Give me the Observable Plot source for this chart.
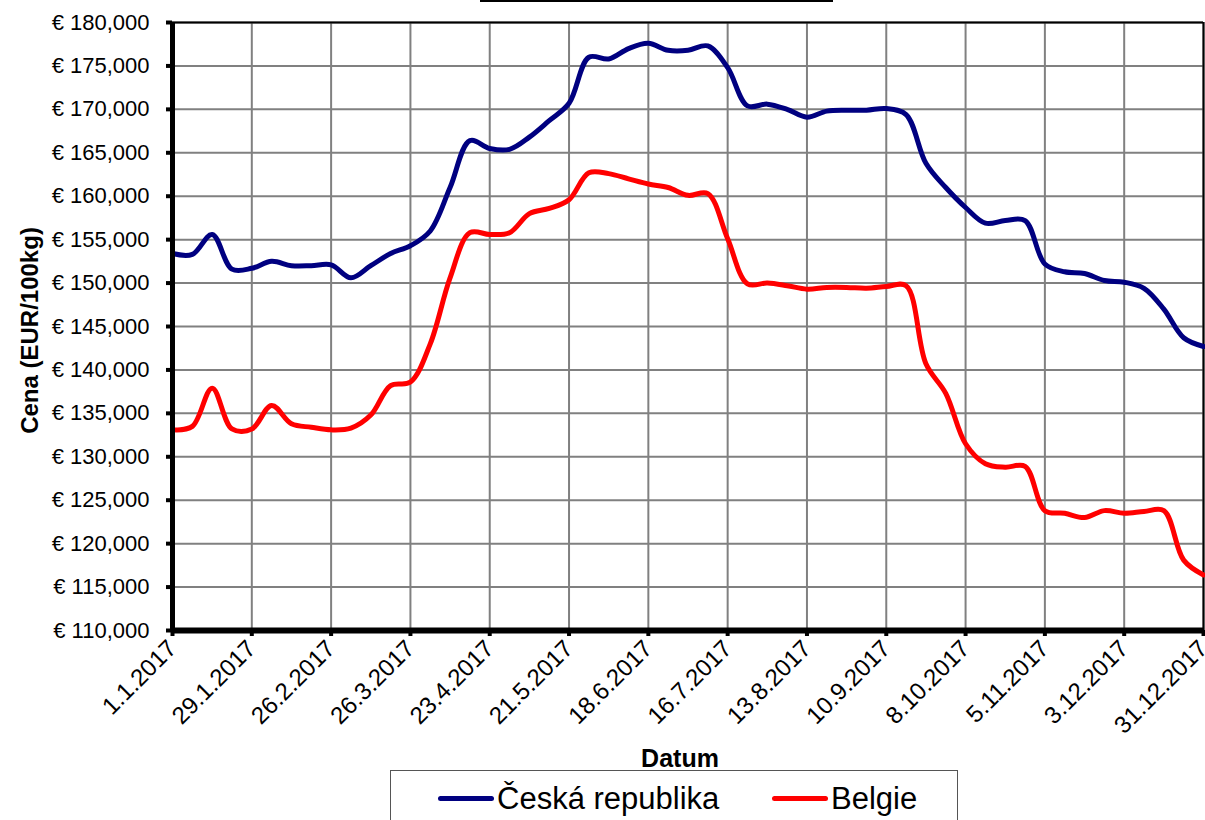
<!DOCTYPE html>
<html>
<head>
<meta charset="utf-8">
<script src="https://cdn.jsdelivr.net/npm/d3@7"></script>
<script src="https://cdn.jsdelivr.net/npm/@observablehq/plot@0.6"></script>
<style>
  html, body { margin: 0; padding: 0; background: #fff; overflow: hidden; }
  body { width: 1205px; height: 820px; position: relative; font-family: "Liberation Sans", Arial, sans-serif; }
  #chart { position: absolute; left: 0; top: 0; }
  #titleline { position: absolute; left: 480px; top: 0; width: 353px; height: 2px; background: #000; }
  #legend { position: absolute; left: 390px; top: 770px; width: 568px; height: 70px; border: 1px solid #555; box-sizing: border-box; }
  .item { position: absolute; top: 11px; font-size: 31px; line-height: 34px; color: #000; white-space: nowrap; }
  .swatch { display: inline-block; width: 56px; height: 5px; border-radius: 3px; vertical-align: middle; margin-right: 3px; position: relative; top: -2px; }
</style>
</head>
<body>
<div id="chart"></div>
<div id="titleline"></div>
<div id="legend">
  <div class="item" style="left:47px"><span class="swatch" style="background:#000080"></span>Česká republika</div>
  <div class="item" style="left:381px"><span class="swatch" style="background:#ff0000"></span>Belgie</div>
</div>
<script>
// Series names and colours
const seriesNames = ["Česká republika", "Belgie"];
const seriesColors = ["#000080", "#ff0000"];

// Weekly prices (EUR/100kg), 1.1.2017 – 31.12.2017, 53 weeks
const czValues = [153.4, 153.3, 155.6, 151.6, 151.7, 152.5, 152.0, 152.0, 152.1, 150.6,
  152.0, 153.4, 154.3, 156.0, 161.0, 166.4, 165.5, 165.4, 166.8, 168.7,
  170.7, 176.0, 175.8, 177.0, 177.6, 176.8, 176.8, 177.3, 174.8, 170.4,
  170.6, 170.0, 169.1, 169.8, 169.9, 169.9, 170.1, 169.4, 163.8, 161.0,
  158.7, 156.9, 157.2, 157.2, 152.2, 151.3, 151.1, 150.3, 150.1, 149.4,
  147.0, 143.7, 142.7];
const beValues = [133.1, 133.5, 137.9, 133.2, 133.2, 135.9, 133.8, 133.4, 133.1, 133.3,
  134.8, 138.2, 138.6, 143.0, 150.6, 155.8, 155.6, 155.8, 158.0, 158.6,
  159.6, 162.7, 162.6, 162.0, 161.4, 161.0, 160.1, 160.3, 155.1, 149.9,
  150.0, 149.7, 149.3, 149.5, 149.5, 149.4, 149.6, 149.7, 140.7, 137.3,
  131.5, 129.2, 128.8, 128.9, 123.8, 123.5, 123.0, 123.8, 123.5, 123.7,
  123.8, 118.1, 116.4];

// X tick labels
const xTickLabels = ["1.1.2017", "29.1.2017", "26.2.2017", "26.3.2017", "23.4.2017", "21.5.2017",
  "18.6.2017", "16.7.2017", "13.8.2017", "10.9.2017", "8.10.2017", "5.11.2017", "3.12.2017", "31.12.2017"];
// Y ticks
const yTicks = [110, 115, 120, 125, 130, 135, 140, 145, 150, 155, 160, 165, 170, 175, 180];

const parseDMY = s => { const [d, m, y] = s.split(".").map(Number); return new Date(Date.UTC(y, m - 1, d)); };
const xTicks = xTickLabels.map(parseDMY);
const start = xTicks[0], end = xTicks[xTicks.length - 1];
const weekDate = i => new Date(Date.UTC(2017, 0, 1 + 7 * i));

const data = [
  ...czValues.map((v, i) => ({date: weekDate(i), value: v, series: seriesNames[0]})),
  ...beValues.map((v, i) => ({date: weekDate(i), value: v, series: seriesNames[1]}))
];

const fmtDate = d => `${d.getUTCDate()}.${d.getUTCMonth() + 1}.${d.getUTCFullYear()}`;
const fmtEur = v => "€ " + v.toFixed(3).replace(".", ",");

const chart = Plot.plot({
  width: 1205,
  height: 770,
  marginTop: 22,
  marginLeft: 172,
  marginRight: 2,
  marginBottom: 140,
  style: {fontFamily: "'Liberation Sans', Arial, sans-serif", fontSize: "22px", color: "#000", background: "#fff", overflow: "visible"},
  x: {type: "utc", domain: [start, end]},
  y: {domain: [110, 180]},
  color: {domain: seriesNames, range: seriesColors},
  marks: [
    Plot.gridX(xTicks, {stroke: "#808080", strokeOpacity: 1, strokeWidth: 2}),
    Plot.gridY(yTicks, {stroke: "#808080", strokeOpacity: 1, strokeWidth: 2}),
    Plot.ruleY([180], {stroke: "#000", strokeWidth: 2}),
    Plot.ruleX([end], {stroke: "#000", strokeWidth: 2}),
    Plot.line(data, {x: "date", y: "value", z: "series", stroke: "series", strokeWidth: 5, curve: "catmull-rom"}),
    Plot.ruleX([start], {stroke: "#000", strokeWidth: 5}),
    Plot.ruleY([110], {stroke: "#000", strokeWidth: 6}),
    Plot.axisY(yTicks, {tickFormat: fmtEur, tickSize: 6, tickPadding: 17, strokeWidth: 4, fontSize: 22, label: null}),
    Plot.axisX(xTicks, {tickFormat: fmtDate, tickSize: 6, tickPadding: 8, tickRotate: -45, strokeWidth: 4, fontSize: 24, label: null}),
    Plot.text(["Cena (EUR/100kg)"], {frameAnchor: "left", textAnchor: "middle", dx: -142, dy: 4, rotate: -90, fontWeight: "bold", fontSize: 24}),
    Plot.text(["Datum"], {frameAnchor: "bottom", dx: -8, dy: 136, fontWeight: "bold", fontSize: 25})
  ]
});
document.getElementById("chart").append(chart);
</script>
</body>
</html>
